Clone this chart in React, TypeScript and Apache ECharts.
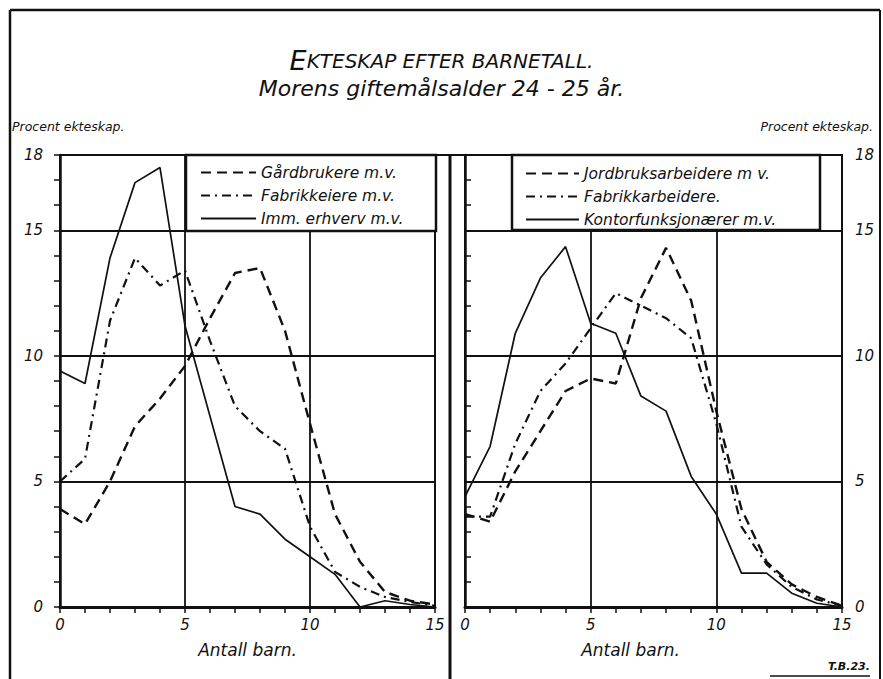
import React, { useEffect, useRef } from "react";
import * as echarts from "echarts";

// Number of children (x categories)
const children = [0, 1, 2, 3, 4, 5, 6, 7, 8, 9, 10, 11, 12, 13, 14, 15];

// Left panel
const leftNames = ["Gårdbrukere m.v.", "Fabrikkeiere m.v.", "Imm. erhverv m.v."];
const leftGardbrukere = [3.9, 3.3, 5.0, 7.2, 8.3, 9.6, 11.5, 13.3, 13.5, 11.0, 7.3, 3.7, 1.8, 0.6, 0.25, 0.1];
const leftFabrikkeiere = [5.0, 5.9, 11.4, 13.9, 12.8, 13.4, 10.6, 8.0, 7.0, 6.3, 3.2, 1.4, 0.8, 0.4, 0.2, 0.05];
const leftImmErhverv = [9.4, 8.9, 13.9, 16.9, 17.5, 11.2, 7.6, 4.0, 3.7, 2.7, 2.0, 1.3, 0.0, 0.25, 0.1, 0.0];

// Right panel
const rightNames = ["Jordbruksarbeidere m v.", "Fabrikkarbeidere.", "Kontorfunksjonærer m.v."];
const rightJordbruk = [3.7, 3.4, 5.4, 7.0, 8.6, 9.1, 8.9, 12.3, 14.3, 12.2, 7.8, 3.9, 1.8, 0.9, 0.4, 0.05];
const rightFabrikk = [3.6, 3.6, 6.5, 8.6, 9.7, 11.1, 12.5, 12.0, 11.5, 10.7, 7.3, 3.2, 1.7, 0.8, 0.3, 0.05];
const rightKontor = [4.4, 6.4, 10.9, 13.1, 14.35, 11.3, 10.9, 8.4, 7.8, 5.2, 3.7, 1.35, 1.35, 0.55, 0.15, 0.0];

// Axis labels and grid lines
const yTickLabels = [0, 5, 10, 15, 18];
const xTickLabels = [0, 5, 10, 15];
const gridX = [5, 10];
const gridY = [5, 10, 15];

const FONT = "'DejaVu Sans', sans-serif";
const INK = "#111";

const dashStyle = [10, 6];
const dashDotStyle = [9, 5, 2, 5];

function pairs(vals: number[]) {
  return children.map((x, i) => [x, vals[i]]);
}

export default function App() {
  const ref = useRef<HTMLDivElement>(null);

  useEffect(() => {
    if (!ref.current) return;
    const chart = echarts.init(ref.current, undefined, { renderer: "svg" });

    const axisLabelStyle = {
      color: INK,
      fontFamily: FONT,
      fontStyle: "italic" as const,
      fontWeight: "normal" as const,
      fontSize: 15,
    };

    const makeX = (gridIndex: number, namePad: number[]) => ({
      type: "value" as const,
      gridIndex,
      min: 0,
      max: 15,
      interval: 1,
      name: "Antall barn.",
      nameLocation: "middle" as const,
      nameGap: 34,
      nameTextStyle: { ...axisLabelStyle, fontSize: 17, padding: namePad },
      axisLine: { show: true, lineStyle: { color: INK, width: 3 } },
      axisTick: { show: true, length: 6, inside: false, lineStyle: { color: INK, width: 1.5 } },
      axisLabel: {
        ...axisLabelStyle,
        margin: 10,
        formatter: (v: number) => (xTickLabels.includes(v) ? String(v) : ""),
      },
      splitLine: { show: false },
    });

    const makeY = (gridIndex: number, position: "left" | "right", margin: number) => ({
      type: "value" as const,
      gridIndex,
      position,
      min: 0,
      max: 18,
      interval: 1,
      axisLine: { show: true, lineStyle: { color: INK, width: 2.5 } },
      axisTick: { show: true, length: 6, inside: false, lineStyle: { color: INK, width: 1.5 } },
      axisLabel: {
        ...axisLabelStyle,
        margin,
        showMaxLabel: true,
        formatter: (v: number) => (yTickLabels.includes(v) ? String(v) : ""),
      },
      splitLine: { show: false },
    });

    const gridMarkLine = {
      silent: true,
      symbol: ["none", "none"],
      label: { show: false },
      lineStyle: { color: INK, width: 1.8, type: "solid" as const },
      data: [...gridX.map((v) => ({ xAxis: v })), ...gridY.map((v) => ({ yAxis: v }))],
    };

    const lineSeries = (
      name: string,
      vals: number[],
      idx: number,
      type: any,
      width: number,
      withGrid: boolean
    ) => ({
      type: "line" as const,
      name,
      xAxisIndex: idx,
      yAxisIndex: idx,
      data: pairs(vals),
      symbol: "none",
      showSymbol: false,
      z: 5,
      color: INK,
      lineStyle: { color: INK, width, type },
      ...(withGrid ? { markLine: gridMarkLine } : {}),
    });

    const legendCommon = {
      orient: "vertical" as const,
      padding: 0,
      itemWidth: 55,
      itemHeight: 14,
      itemGap: 4,
      z: 60,
      selectedMode: false,
      itemStyle: { color: "rgba(0,0,0,0)", borderColor: "rgba(0,0,0,0)", borderWidth: 0, opacity: 0 },
      textStyle: { color: INK, fontFamily: FONT, fontStyle: "italic" as const, fontSize: 15.5, lineHeight: 19 },
    };

    const textStyleItalic = (size: number) => ({
      fill: INK,
      font: `italic ${size}px ${FONT}`,
    });

    chart.setOption({
      animation: false,
      backgroundColor: "#fff",
      title: {
        text: "{big|E}{small|KTESKAP EFTER BARNETALL.}",
        subtext: "Morens giftemålsalder 24 - 25 år.",
        left: "center",
        top: 42,
        itemGap: 3,
        textStyle: {
          fontWeight: "normal",
          rich: {
            big: { fontFamily: FONT, fontStyle: "italic", fontWeight: "normal", fontSize: 27, color: INK },
            small: { fontFamily: FONT, fontStyle: "italic", fontWeight: "normal", fontSize: 20, color: INK },
          },
        },
        subtextStyle: { fontFamily: FONT, fontStyle: "italic", fontWeight: "normal", fontSize: 22, color: INK },
      },
      grid: [
        { left: 60, top: 155, width: 375, height: 452, show: true, borderColor: INK, borderWidth: 2 },
        { left: 465, top: 155, width: 377, height: 452, show: true, borderColor: INK, borderWidth: 2 },
      ],
      xAxis: [makeX(0, [0, 0, 0, 0]), makeX(1, [0, 46, 0, 0])],
      yAxis: [makeY(0, "left", 17), makeY(1, "right", 13)],
      legend: [
        { ...legendCommon, left: 200, top: 163, data: leftNames },
        { ...legendCommon, itemWidth: 53, left: 525, top: 164, data: rightNames },
      ],
      series: [
        lineSeries(leftNames[0], leftGardbrukere, 0, dashStyle, 2.4, true),
        lineSeries(leftNames[1], leftFabrikkeiere, 0, dashDotStyle, 2.2, false),
        lineSeries(leftNames[2], leftImmErhverv, 0, "solid", 1.7, false),
        lineSeries(rightNames[0], rightJordbruk, 1, dashStyle, 2.4, true),
        lineSeries(rightNames[1], rightFabrikk, 1, dashDotStyle, 2.2, false),
        lineSeries(rightNames[2], rightKontor, 1, "solid", 1.7, false),
      ],
      graphic: [
        // outer frame
        { type: "line", z: 40, shape: { x1: 10, y1: 10, x2: 880, y2: 10 }, style: { stroke: INK, lineWidth: 2.5 } },
        { type: "line", z: 40, shape: { x1: 10, y1: 10, x2: 10, y2: 679 }, style: { stroke: INK, lineWidth: 2.5 } },
        { type: "line", z: 40, shape: { x1: 880, y1: 10, x2: 880, y2: 679 }, style: { stroke: INK, lineWidth: 2 } },
        // divider between panels
        { type: "line", z: 40, shape: { x1: 450, y1: 155, x2: 450, y2: 679 }, style: { stroke: INK, lineWidth: 3 } },
        { type: "line", z: 40, shape: { x1: 435, y1: 155, x2: 465, y2: 155 }, style: { stroke: INK, lineWidth: 2 } },
        // legend boxes
        { type: "rect", z: 50, shape: { x: 186, y: 155, width: 250, height: 76 }, style: { fill: "#fff", stroke: INK, lineWidth: 2.5 } },
        { type: "rect", z: 50, shape: { x: 512, y: 155, width: 308, height: 75 }, style: { fill: "#fff", stroke: INK, lineWidth: 2.5 } },
        // y-axis titles
        { type: "text", z: 40, left: 12, top: 120, style: { text: "Procent ekteskap.", ...textStyleItalic(12.5) } },
        { type: "text", z: 40, right: 10, top: 120, style: { text: "Procent ekteskap.", ...textStyleItalic(12.5) } },
        // signature
        { type: "text", z: 40, left: 828, top: 661, style: { text: "T.B.23.", fill: INK, font: `italic bold 11px ${FONT}` } },
        { type: "line", z: 40, shape: { x1: 770, y1: 676, x2: 870, y2: 676 }, style: { stroke: INK, lineWidth: 1.5 } },
      ],
    });

    return () => chart.dispose();
  }, []);

  return (
    <div
      ref={ref}
      style={{ position: "fixed", left: 0, top: 0, width: 883, height: 679, background: "#fff" }}
    />
  );
}
